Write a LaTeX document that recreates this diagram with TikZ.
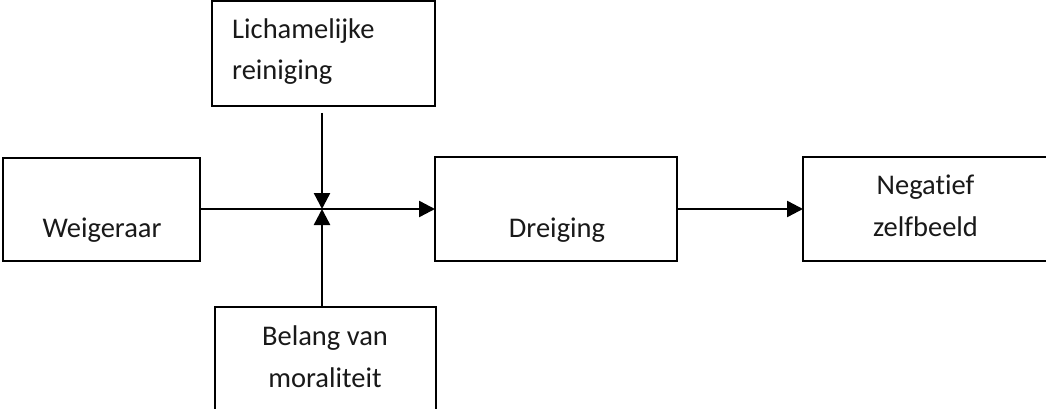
\documentclass[tikz,border=0pt]{standalone}
\usepackage{fontspec}
\setmainfont{Carlito}[Ligatures=NoCommon]
\usetikzlibrary{arrows.meta}
\begin{document}
\begin{tikzpicture}[x=1pt,y=-1pt,
  box/.style={draw=black,line width=2pt,fill=white,inner sep=0pt,outer sep=0pt},
  txt/.style={inner sep=0pt,anchor=base,text=black!90,font=\fontsize{28.5}{40}\selectfont},
  conn/.style={line width=2.4pt,-{Triangle[length=16pt,width=16pt]}}]
\useasboundingbox (0,0) rectangle (1046,409);
\begin{scope}
\clip (0,0) rectangle (1046,409);
% boxes
\node[box,minimum width=197pt,minimum height=103pt] (wei) at (101.5,209) {};
\node[box,minimum width=242pt,minimum height=104pt] (drei) at (556,209) {};
\node[box,minimum width=245pt,minimum height=104pt] (neg) at (925.5,209) {};
\node[box,minimum width=223pt,minimum height=105pt] (top) at (323.5,53.5) {};
\node[box,minimum width=221pt,minimum height=140pt] (bot) at (325.5,377) {};
% texts
\node[txt] (tw) at (102,237) {Weigeraar};
\node[txt] (td) at (557,237) {Dreiging};
\node[txt] (tn1) at (925.5,194) {Negatief};
\node[txt] (tn2) at (925.5,236) {zelfbeeld};
\node[txt,anchor=base west] (tt1) at (232,39) {Lichamelijke};
\node[txt,anchor=base west] (tt2) at (232,80) {reiniging};
\node[txt] (tb1) at (325,345) {Belang van};
\node[txt] (tb2) at (325,387) {moraliteit};
% connectors
\coordinate (j) at (322,209);
\coordinate (topstart) at (322,113);
\draw[conn] (wei.east) -- (drei.west);
\draw[conn] (drei.east) -- (neg.west);
\draw[conn] (topstart) -- (j);
\draw[conn] (bot.north -| j) -- (j);
\end{scope}
\end{tikzpicture}
\end{document}
